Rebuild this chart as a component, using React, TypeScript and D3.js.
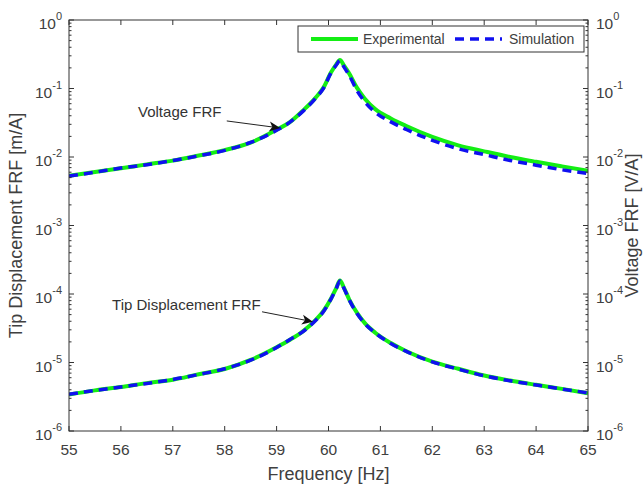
import React from "react";
import * as d3 from "d3";

// ---- Data ----
const freq = [55.0, 55.5, 56.0, 56.5, 57.0, 57.5, 58.0, 58.5, 59.0, 59.25, 59.5, 59.75, 59.9, 60.05, 60.15, 60.22, 60.3, 60.4, 60.55, 60.7, 60.9, 61.2, 61.5, 62.0, 62.5, 63.0, 63.5, 64.0, 64.5, 65.0];
const voltageSim = [5.25e-3, 6.0e-3, 6.9e-3, 7.7e-3, 8.9e-3, 1.04e-2, 1.25e-2, 1.63e-2, 2.45e-2, 3.2e-2, 4.6e-2, 7.2e-2, 1.0e-1, 1.7e-1, 2.2e-1, 2.55e-1, 2.05e-1, 1.55e-1, 9.3e-2, 6.4e-2, 4.5e-2, 3.26e-2, 2.52e-2, 1.75e-2, 1.32e-2, 1.085e-2, 8.9e-3, 7.6e-3, 6.5e-3, 5.75e-3];
const voltageExp = [5.3e-3, 6.05e-3, 6.85e-3, 7.8e-3, 8.85e-3, 1.05e-2, 1.26e-2, 1.62e-2, 2.5e-2, 3.2e-2, 4.7e-2, 7.3e-2, 1.02e-1, 1.72e-1, 2.25e-1, 2.6e-1, 2.15e-1, 1.65e-1, 1.02e-1, 7.1e-2, 5.0e-2, 3.65e-2, 2.83e-2, 1.96e-2, 1.48e-2, 1.21e-2, 1.0e-2, 8.5e-3, 7.3e-3, 6.3e-3];
const tipSim = [3.45e-6, 3.9e-6, 4.4e-6, 4.95e-6, 5.65e-6, 6.7e-6, 8.1e-6, 1.08e-5, 1.65e-5, 2.15e-5, 2.8e-5, 4.1e-5, 5.5e-5, 8.5e-5, 1.2e-4, 1.55e-4, 1.2e-4, 8.2e-5, 5.2e-5, 3.7e-5, 2.7e-5, 1.9e-5, 1.45e-5, 1.02e-5, 8.0e-6, 6.4e-6, 5.4e-6, 4.7e-6, 4.1e-6, 3.6e-6];
const tipExp = [3.4e-6, 3.92e-6, 4.38e-6, 5.0e-6, 5.6e-6, 6.75e-6, 8.05e-6, 1.09e-5, 1.67e-5, 2.13e-5, 2.82e-5, 4.15e-5, 5.6e-5, 8.6e-5, 1.22e-4, 1.57e-4, 1.22e-4, 8.3e-5, 5.3e-5, 3.75e-5, 2.72e-5, 1.92e-5, 1.46e-5, 1.03e-5, 8.1e-6, 6.45e-6, 5.45e-6, 4.72e-6, 4.12e-6, 3.55e-6];

const xTicks = [55, 56, 57, 58, 59, 60, 61, 62, 63, 64, 65];
const yExponents = [0, -1, -2, -3, -4, -5, -6];
const legendLabels = ["Experimental", "Simulation"];
const xTitle = "Frequency [Hz]";
const yLeftTitle = "Tip Displacement FRF [m/A]";
const yRightTitle = "Voltage FRF [V/A]";

// annotations: [label, textFreq, textValue, tailFreq, tailValue, headFreq, headValue]
const annotations: [string, number, number, number, number, number, number][] = [
  ["Voltage FRF", 56.33, 0.045, 58.04, 0.0336, 59.07, 0.0265],
  ["Tip Displacement FRF", 55.83, 7.0e-5, 58.72, 5.5e-5, 59.7, 3.94e-5],
];

const W = 643;
const H = 487;
const M = { left: 69, right: 588, top: 20, bottom: 431 };
const axisColor = "#333333";
const textColor = "#404040";
const green = "#14ee14";
const blue = "#1010f0";
const font = "Liberation Sans, Arial, Helvetica, sans-serif";

export default function App() {
  const x = d3.scaleLinear().domain([55, 65]).range([M.left, M.right]);
  const y = d3.scaleLog().domain([1e-6, 1]).range([M.bottom, M.top]);

  const line = (vals: number[]) =>
    d3
      .line<number>()
      .x((_, i) => x(freq[i]))
      .y((v) => y(v))
      .curve(d3.curveMonotoneX)(vals) || "";

  const minor: number[] = [];
  for (let e = -6; e < 0; e++) {
    for (let k = 2; k <= 9; k++) minor.push(k * Math.pow(10, e));
  }

  return (
    <svg
      width={W}
      height={H}
      style={{ position: "absolute", left: 0, top: 0, background: "#fff" }}
      fontFamily={font}
    >
      <rect x={0} y={0} width={W} height={H} fill="#fff" />
      <clipPath id="plotclip">
        <rect x={M.left} y={M.top} width={M.right - M.left} height={M.bottom - M.top} />
      </clipPath>

      {/* curves */}
      <g clipPath="url(#plotclip)" fill="none">
        <path d={line(voltageExp)} stroke={green} strokeWidth={4} strokeLinejoin="round" />
        <path d={line(tipExp)} stroke={green} strokeWidth={4} strokeLinejoin="round" />
        <path d={line(voltageSim)} stroke={blue} strokeWidth={3.5} strokeDasharray="9,6" />
        <path d={line(tipSim)} stroke={blue} strokeWidth={3.5} strokeDasharray="9,6" />
      </g>

      {/* axes box */}
      <rect
        x={M.left}
        y={M.top}
        width={M.right - M.left}
        height={M.bottom - M.top}
        fill="none"
        stroke={axisColor}
        strokeWidth={1}
      />

      {/* x ticks */}
      {xTicks.map((t) => (
        <g key={"xt" + t}>
          <line x1={x(t)} x2={x(t)} y1={M.bottom} y2={M.bottom - 5} stroke={axisColor} />
          <line x1={x(t)} x2={x(t)} y1={M.top} y2={M.top + 5} stroke={axisColor} />
          <text x={x(t)} y={M.bottom + 24} textAnchor="middle" fontSize={15.5} fill={textColor}>
            {t}
          </text>
        </g>
      ))}

      {/* y ticks major */}
      {yExponents.map((e) => {
        const yy = y(Math.pow(10, e));
        return (
          <g key={"yt" + e}>
            <line x1={M.left} x2={M.left + 5} y1={yy} y2={yy} stroke={axisColor} />
            <line x1={M.right} x2={M.right - 5} y1={yy} y2={yy} stroke={axisColor} />
            <text x={M.left - 7} y={yy + 9} textAnchor="end" fontSize={15.5} fill={textColor}>
              10
              <tspan dy={-9} fontSize={11}>
                {String(e)}
              </tspan>
            </text>
            <text x={M.right + 8} y={yy + 9} textAnchor="start" fontSize={15.5} fill={textColor}>
              10
              <tspan dy={-9} fontSize={11}>
                {String(e)}
              </tspan>
            </text>
          </g>
        );
      })}
      {/* y minor ticks */}
      {minor.map((v, i) => (
        <g key={"ym" + i}>
          <line x1={M.left} x2={M.left + 2.5} y1={y(v)} y2={y(v)} stroke={axisColor} />
          <line x1={M.right} x2={M.right - 2.5} y1={y(v)} y2={y(v)} stroke={axisColor} />
        </g>
      ))}

      {/* axis titles */}
      <text x={(M.left + M.right) / 2} y={480} textAnchor="middle" fontSize={18} fill={textColor}>
        {xTitle}
      </text>
      <text
        transform={`translate(22,${(M.top + M.bottom) / 2}) rotate(-90)`}
        textAnchor="middle"
        fontSize={18}
        fill={textColor}
      >
        {yLeftTitle}
      </text>
      <text
        transform={`translate(638,${(M.top + M.bottom) / 2}) rotate(-90)`}
        textAnchor="middle"
        fontSize={18}
        fill={textColor}
      >
        {yRightTitle}
      </text>

      {/* annotations */}
      {annotations.map(([label, tf, tv, af, av, hf, hv]) => {
        const x1 = x(af), y1 = y(av), x2 = x(hf), y2 = y(hv);
        const ang = Math.atan2(y2 - y1, x2 - x1);
        const len = 11, half = 5;
        const bx = x2 - len * Math.cos(ang), by = y2 - len * Math.sin(ang);
        const px = -Math.sin(ang), py = Math.cos(ang);
        const notch = 3;
        const nx = bx + notch * Math.cos(ang), ny = by + notch * Math.sin(ang);
        const pts = [
          [x2, y2],
          [bx + px * half, by + py * half],
          [nx, ny],
          [bx - px * half, by - py * half],
        ]
          .map((p) => p.join(","))
          .join(" ");
        return (
          <g key={label}>
            <text x={x(tf)} y={y(tv) + 5} fontSize={15} fill="#333">
              {label}
            </text>
            <line x1={x1} y1={y1} x2={nx} y2={ny} stroke="#222" strokeWidth={1} />
            <polygon points={pts} fill="#111" />
          </g>
        );
      })}

      {/* legend */}
      <g>
        <rect x={298} y={26} width={286} height={26} fill="#fff" stroke={axisColor} strokeWidth={1} />
        <line x1={311} x2={358} y1={39} y2={39} stroke={green} strokeWidth={4} />
        <text x={363} y={44} fontSize={14} fill={textColor}>
          {legendLabels[0]}
        </text>
        <line x1={455} x2={502} y1={39} y2={39} stroke={blue} strokeWidth={3.5} strokeDasharray="9,6" />
        <text x={509} y={44} fontSize={14} fill={textColor}>
          {legendLabels[1]}
        </text>
      </g>
    </svg>
  );
}
